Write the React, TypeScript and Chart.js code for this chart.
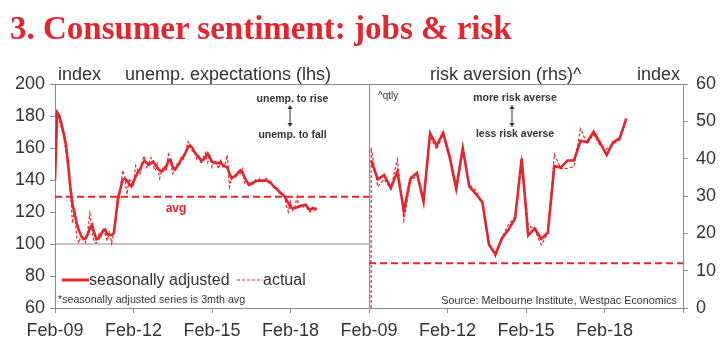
import React, { useEffect, useRef } from 'react';
import { Chart, registerables } from 'chart.js';

Chart.register(...registerables);

// ---------------- data ----------------
const PANEL_MONTHS = 144; // each panel spans Feb-09 .. Feb-21
const xTickLabels = ['Feb-09', 'Feb-12', 'Feb-15', 'Feb-18'];
const leftTicks = [60, 80, 100, 120, 140, 160, 180, 200];
const rightTicks = [0, 10, 20, 30, 40, 50, 60];

// unemployment expectations, monthly from Feb-09 (seasonally adjusted, 3mth avg)
const unempSA = [
  140, 182, 180, 175, 169, 162, 150, 136, 125, 119,
  112.5, 108.5, 105, 103, 103.5, 106, 110, 112, 107, 103,
  103.5, 106, 108, 109, 106, 105.5, 105.6, 107, 118, 129.6,
  134.5, 140, 141, 139.5, 137.5, 136, 139, 142, 145, 146.5,
  150, 152, 151, 149.5, 150.5, 151.5, 149.5, 147.5, 146, 145.5,
  146.5, 148.3, 152, 152.5, 148, 146.5, 148.5, 150.5, 153, 155,
  157.5, 160.5, 161.5, 160, 157.5, 155.5, 154, 152.5, 152.5, 154.5,
  156.5, 154, 151.5, 151, 150.4, 150.8, 150.5, 149.4, 148.5, 148,
  144, 141, 142, 143, 144.5, 146, 144.5, 141.5, 139, 137,
  137.5, 138.5, 139.2, 139.5, 139.6, 139.6, 139.6, 139.8, 139.2, 138,
  136.5, 135.2, 134, 132.5, 131.3, 130.2, 128, 125.5, 123, 122.3,
  122.3, 123, 123.5, 124, 124.2, 124.4, 122.5, 121.3, 122, 122.3,
  121.7,
];

// unemployment expectations, monthly actual
const unempActual = [
  180, 183, 178, 172, 167, 158, 148, 135, 113, 122,
  104, 100.5, 106, 103, 101, 108, 119, 108, 101, 100.5,
  106, 104, 110, 106, 102, 108, 100.5, 108, 118, 125,
  134, 146, 142, 131, 141, 138, 137, 149, 146, 144,
  152, 155, 148, 150, 154, 149, 146, 150, 141, 146,
  149, 146, 156, 152, 144, 147, 150, 149, 155, 153,
  158, 164, 160, 158, 158, 153, 155, 150, 154, 157,
  151, 156, 148, 152, 151, 147, 153, 148, 150, 155.6,
  135.8, 141, 143, 142, 146, 144, 147, 138, 138, 136,
  139, 137.5, 140, 139, 141, 139, 140, 141, 138, 139,
  136, 134, 135, 131, 132, 131, 125, 120, 126.5, 121,
  123, 129.5, 122, 125, 123, 125, 121, 120, 123, 121,
  122,
];

// risk aversion, quarterly from Mar-09
const riskSA = [
  39.5, 34.5, 35.6, 32.1, 36.5, 26, 34.7, 36.2, 28.5, 46.8,
  43.5, 46.9, 40.5, 32, 42.8, 32.5, 30.6, 28.3, 17, 14.4,
  18.7, 21, 24, 40, 19.4, 21.3, 18.5, 20.2, 38, 37.6,
  39.5, 39.5, 44.8, 44.4, 47.2, 44.2, 41, 44.4, 45.5, 50.8,
];
const riskActual = [
  42.9, 32.5, 34.5, 32, 39.8, 23.5, 34, 35.5, 29, 46,
  42.5, 46.5, 39.5, 31, 42.5, 33, 31.5, 28, 17.5, 13.7,
  19, 22.3, 24.5, 40, 22.2, 21, 16.9, 20, 41.2, 37.3,
  37.4, 37.9, 48, 44, 46.5, 43.5, 42.5, 44, 45, 50.5,
];
const riskActualStart = 0;

const unempAvg = 129.5;
const riskAvg = 12;
const neutralLevel = 100;

// ---------------- styles ----------------
const RED = '#e3262d';
const AXIS = '#8a8a8a';
const TEXT = '#333333';
const SANS = "'Liberation Sans', Arial, sans-serif";

const pts = (arr: number[], start: number, step: number) =>
  arr.map((v, i) => ({ x: start + i * step, y: v }));

function Label(props: {
  x: number; y: number; text: string; size: number; weight?: number | string;
  color?: string; anchor?: 'left' | 'center' | 'right'; family?: string;
}) {
  const { x, y, text, size, weight = 400, color = TEXT, anchor = 'left', family = SANS } = props;
  const tx = anchor === 'center' ? '-50%' : anchor === 'right' ? '-100%' : '0';
  return (
    <div
      style={{
        position: 'absolute', left: x, top: y, fontSize: size, fontWeight: weight as any,
        color, fontFamily: family, whiteSpace: 'nowrap', lineHeight: 1,
        transform: `translate(${tx}, -50%)`,
      }}
    >
      {text}
    </div>
  );
}

function Arrow({ x, y1, y2 }: { x: number; y1: number; y2: number }) {
  return (
    <svg style={{ position: 'absolute', left: x - 4, top: y1, overflow: 'visible' }} width={8} height={y2 - y1}>
      <line x1={4} y1={2} x2={4} y2={y2 - y1 - 2} stroke={TEXT} strokeWidth={1} />
      <polygon points={`4,0 1.5,4 6.5,4`} fill={TEXT} />
      <polygon points={`4,${y2 - y1} 1.5,${y2 - y1 - 4} 6.5,${y2 - y1 - 4}`} fill={TEXT} />
    </svg>
  );
}

export default function App() {
  const ref = useRef<HTMLCanvasElement | null>(null);

  useEffect(() => {
    if (!ref.current) return;
    const rightStart = PANEL_MONTHS + 1;
    const chart = new Chart(ref.current, {
      type: 'line',
      data: {
        datasets: [
          {
            label: 'seasonally adjusted', data: pts(unempSA, 0, 1), yAxisID: 'y',
            borderColor: RED, borderWidth: 2.6, pointRadius: 0, tension: 0,
          },
          {
            label: 'actual', data: pts(unempActual, 0, 1), yAxisID: 'y',
            borderColor: RED, borderWidth: 1.2, borderDash: [3, 2], pointRadius: 0, tension: 0,
          },
          {
            label: 'risk sa', data: pts(riskSA, rightStart, 3), yAxisID: 'y1',
            borderColor: RED, borderWidth: 2.6, pointRadius: 0, tension: 0,
          },
          {
            label: 'risk actual',
            data: [{ x: rightStart, y: riskActualStart }, ...pts(riskActual, rightStart, 3)],
            yAxisID: 'y1', borderColor: RED, borderWidth: 1.2, borderDash: [3, 2], pointRadius: 0, tension: 0,
          },
          {
            label: 'avg', data: [{ x: 0, y: unempAvg }, { x: PANEL_MONTHS, y: unempAvg }], yAxisID: 'y',
            borderColor: RED, borderWidth: 2, borderDash: [7, 4], pointRadius: 0,
          },
          {
            label: 'risk avg', data: [{ x: PANEL_MONTHS, y: riskAvg }, { x: PANEL_MONTHS * 2, y: riskAvg }], yAxisID: 'y1',
            borderColor: RED, borderWidth: 2, borderDash: [7, 4], pointRadius: 0,
          },
          {
            label: 'neutral', data: [{ x: 0, y: neutralLevel }, { x: PANEL_MONTHS, y: neutralLevel }], yAxisID: 'y',
            borderColor: AXIS, borderWidth: 1, pointRadius: 0,
          },
        ],
      },
      options: {
        responsive: false,
        animation: false,
        devicePixelRatio: 1,
        layout: { padding: { top: 84, left: 0, right: 0, bottom: 0 } },
        plugins: { legend: { display: false }, tooltip: { enabled: false }, title: { display: false } },
        scales: {
          x: {
            type: 'linear', min: 0, max: PANEL_MONTHS * 2,
            afterBuildTicks: (s: any) => {
              const t = [];
              for (let v = 0; v <= PANEL_MONTHS * 2; v += 36) t.push({ value: v });
              s.ticks = t;
            },
            afterFit: (s: any) => { s.height = 48; },
            ticks: {
              autoSkip: false, maxRotation: 0, color: TEXT, padding: 7,
              font: { family: SANS, size: 18 },
              callback: (v: any) => (v >= PANEL_MONTHS * 2 ? '' : xTickLabels[(v % PANEL_MONTHS) / 36]),
            },
            grid: {
              color: (c: any) => (c.tick && c.tick.value === PANEL_MONTHS ? AXIS : 'rgba(0,0,0,0)'),
              tickColor: AXIS, tickLength: 5, lineWidth: 1,
            },
            border: { color: AXIS, width: 1 },
          },
          y: {
            type: 'linear', position: 'left', min: 60, max: 200,
            afterBuildTicks: (s: any) => { s.ticks = leftTicks.map((v) => ({ value: v })); },
            afterFit: (s: any) => { s.width = 55; },
            ticks: { color: TEXT, padding: 5, font: { family: SANS, size: 18 } },
            grid: {
              color: (c: any) => (c.tick && c.tick.value === 200 ? AXIS : 'rgba(0,0,0,0)'),
              tickColor: AXIS, tickLength: 5, lineWidth: 1,
            },
            border: { color: AXIS, width: 1 },
          },
          y1: {
            type: 'linear', position: 'right', min: 0, max: 60,
            afterBuildTicks: (s: any) => { s.ticks = rightTicks.map((v) => ({ value: v })); },
            afterFit: (s: any) => { s.width = 45; },
            ticks: { color: TEXT, padding: 8, font: { family: SANS, size: 18 } },
            grid: { drawOnChartArea: false, tickColor: AXIS, tickLength: 5 },
            border: { color: AXIS, width: 1 },
          },
        },
      },
    });
    return () => chart.destroy();
  }, []);

  return (
    <div style={{ position: 'fixed', left: 0, top: 0, width: 728, height: 356, background: '#fff', overflow: 'hidden' }}>
      <canvas ref={ref} width={728} height={356} style={{ position: 'absolute', left: 0, top: 0, width: 728, height: 356 }} />
      <Label x={10} y={28} text="3. Consumer sentiment: jobs & risk" size={33} weight={700} color={RED}
        family="'Liberation Serif', 'Times New Roman', serif" />
      <Label x={58} y={74} text="index" size={18} />
      <Label x={125} y={74} text="unemp. expectations (lhs)" size={18} />
      <Label x={430} y={74} text="risk aversion (rhs)^" size={18} />
      <Label x={637} y={74} text="index" size={18} />

      <Label x={292.5} y={97.5} text="unemp. to rise" size={10.5} weight={700} anchor="center" />
      <Arrow x={290} y1={105} y2={127} />
      <Label x={292.5} y={134} text="unemp. to fall" size={10.5} weight={700} anchor="center" />

      <Label x={515} y={97} text="more risk averse" size={10.5} weight={700} anchor="center" />
      <Arrow x={512} y1={105} y2={127} />
      <Label x={515} y={133} text="less risk averse" size={10.5} weight={700} anchor="center" />
      <Label x={378} y={96} text="^qtly" size={10} />

      <Label x={176} y={208} text="avg" size={12} weight={700} color={RED} anchor="center" />

      <svg style={{ position: 'absolute', left: 62, top: 274 }} width={28} height={12}>
        <line x1={0} y1={6} x2={27} y2={6} stroke={RED} strokeWidth={3} />
      </svg>
      <Label x={89} y={280} text="seasonally adjusted" size={16} />
      <svg style={{ position: 'absolute', left: 237, top: 274 }} width={28} height={12}>
        <line x1={0} y1={6} x2={26} y2={6} stroke={RED} strokeWidth={1.2} strokeDasharray="3 2" />
      </svg>
      <Label x={263} y={280} text="actual" size={16} />
      <Label x={58} y={299} text="*seasonally adjusted series is 3mth avg" size={10.7} />
      <Label x={677} y={300} text="Source: Melbourne Institute, Westpac Economics" size={10.8} anchor="right" />
    </div>
  );
}
